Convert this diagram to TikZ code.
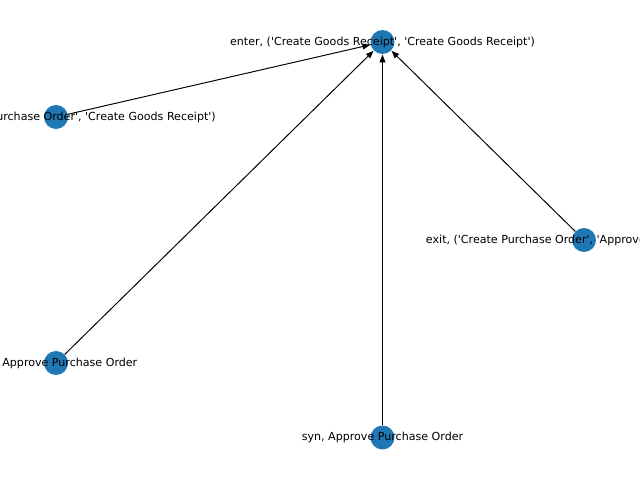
\documentclass[tikz,border=0pt]{standalone}
\usepackage{fontspec}
\setmainfont{DejaVu Sans}[Ligatures=TeXOff]
\usetikzlibrary{arrows.meta}
\definecolor{nodeblue}{RGB}{31,119,180}
\tikzstyle{event}=[circle, fill=nodeblue, inner sep=0pt, minimum size=17.3pt]
\tikzstyle{label}=[inner sep=0pt, font=\fontsize{8}{9.6}\selectfont]
\tikzstyle{flow}=[-{Triangle[length=5.5pt, width=4.2pt]}, line width=0.7pt, shorten >=0.3pt]

\begin{document}
\begin{tikzpicture}[x=0.01in, y=-0.01in]
    \useasboundingbox (0, 0) rectangle (640, 480);
    \clip (0, 0) rectangle (640, 480);
    % the events
    \node[event] (enter) at (382.5, 42) {};
    \node[event] (enterpo) at (56, 117) {};
    \node[event] (exitpo) at (584, 240) {};
    \node[event] (exitapp) at (56, 363) {};
    \node[event] (synapp) at (382.5, 437.5) {};
    % edges into the enter node
    \draw[flow] (enterpo) to (enter);
    \draw[flow] (exitapp) to (enter);
    \draw[flow] (synapp) to (enter);
    \draw[flow] (exitpo) to (enter);
    % labels sit over the nodes
    \node[label] (l-enter) at (enter) {enter, ('Create Goods Receipt', 'Create Goods Receipt')};
    \node[label] (l-enterpo) at (enterpo) {enter, ('Approve Purchase Order', 'Create Goods Receipt')};
    \node[label] (l-exitpo) at (exitpo) {exit, ('Create Purchase Order', 'Approve Purchase Order')};
    \node[label] (l-exitapp) at (exitapp) {exit, Approve Purchase Order};
    \node[label] (l-synapp) at (synapp) {syn, Approve Purchase Order};
\end{tikzpicture}
\end{document}
